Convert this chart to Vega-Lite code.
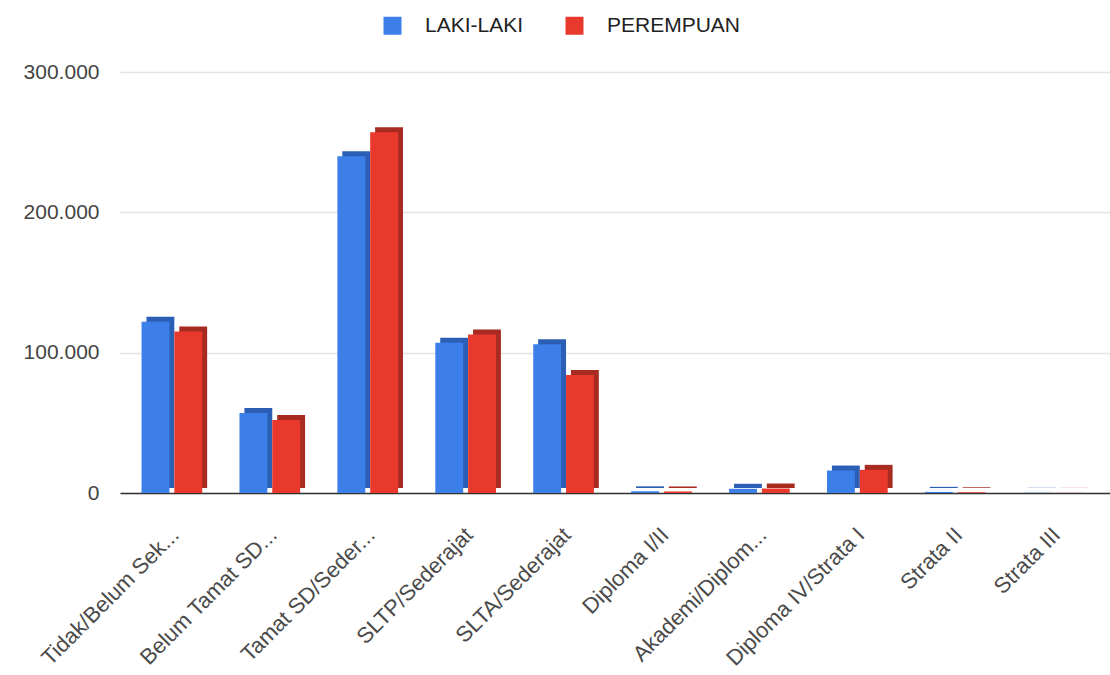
{
  "$schema": "https://vega.github.io/schema/vega-lite/v6.json",
  "width": 990,
  "height": 421,
  "autosize": {"type": "none"},
  "padding": {"left": 120, "top": 72, "right": 0, "bottom": 182},
  "background": "white",
  "config": {"font": "Liberation Sans", "view": {"stroke": null}},
  "data": {"values": [
    {"pendidikan": "Tidak/Belum Sek...", "jk": "LAKI-LAKI", "jumlah": 122000},
    {"pendidikan": "Tidak/Belum Sek...", "jk": "PEREMPUAN", "jumlah": 115000},
    {"pendidikan": "Belum Tamat SD...", "jk": "LAKI-LAKI", "jumlah": 57000},
    {"pendidikan": "Belum Tamat SD...", "jk": "PEREMPUAN", "jumlah": 52000},
    {"pendidikan": "Tamat SD/Seder...", "jk": "LAKI-LAKI", "jumlah": 240000},
    {"pendidikan": "Tamat SD/Seder...", "jk": "PEREMPUAN", "jumlah": 257000},
    {"pendidikan": "SLTP/Sederajat", "jk": "LAKI-LAKI", "jumlah": 107000},
    {"pendidikan": "SLTP/Sederajat", "jk": "PEREMPUAN", "jumlah": 113000},
    {"pendidikan": "SLTA/Sederajat", "jk": "LAKI-LAKI", "jumlah": 106000},
    {"pendidikan": "SLTA/Sederajat", "jk": "PEREMPUAN", "jumlah": 84000},
    {"pendidikan": "Diploma I/II", "jk": "LAKI-LAKI", "jumlah": 1200},
    {"pendidikan": "Diploma I/II", "jk": "PEREMPUAN", "jumlah": 1100},
    {"pendidikan": "Akademi/Diplom...", "jk": "LAKI-LAKI", "jumlah": 3000},
    {"pendidikan": "Akademi/Diplom...", "jk": "PEREMPUAN", "jumlah": 3200},
    {"pendidikan": "Diploma IV/Strata I", "jk": "LAKI-LAKI", "jumlah": 16000},
    {"pendidikan": "Diploma IV/Strata I", "jk": "PEREMPUAN", "jumlah": 16500},
    {"pendidikan": "Strata II", "jk": "LAKI-LAKI", "jumlah": 800},
    {"pendidikan": "Strata II", "jk": "PEREMPUAN", "jumlah": 500},
    {"pendidikan": "Strata III", "jk": "LAKI-LAKI", "jumlah": 150},
    {"pendidikan": "Strata III", "jk": "PEREMPUAN", "jumlah": 80}
  ]},
  "encoding": {
    "x": {
      "field": "pendidikan", "type": "nominal", "sort": null,
      "scale": {"paddingInner": 0.33, "paddingOuter": 0.22},
      "axis": {
        "title": null, "labelAngle": -45, "labelFontSize": 22, "labelColor": "#4a4a4a",
        "ticks": false, "domainColor": "#333333", "domainWidth": 1.5,
        "labelPadding": 31, "labelOffset": -6, "labelLimit": 400
      }
    },
    "y": {
      "field": "jumlah", "type": "quantitative",
      "scale": {"domain": [0, 300000], "nice": false},
      "axis": {
        "title": null, "domain": false, "ticks": false,
        "values": [0, 100000, 200000, 300000],
        "labelExpr": "replace(format(datum.value, ','), ',', '.')",
        "labelFontSize": 21, "labelColor": "#444444", "labelPadding": 21,
        "grid": true, "gridColor": "#e3e3e3", "gridWidth": 1.5
      }
    }
  },
  "layer": [
    {
      "mark": {"type": "bar", "yOffset": -5},
      "encoding": {
        "xOffset": {"field": "jk", "type": "nominal", "sort": ["LAKI-LAKI", "PEREMPUAN"], "scale": {"paddingInner": 0.15, "paddingOuter": 0.075, "align": 1}},
        "color": {
          "field": "jk", "type": "nominal",
          "scale": {"domain": ["LAKI-LAKI", "PEREMPUAN"], "range": ["#2b5fb5", "#a82b21"]},
          "legend": null
        }
      }
    },
    {
      "mark": {"type": "bar"},
      "encoding": {
        "xOffset": {"field": "jk", "type": "nominal", "sort": ["LAKI-LAKI", "PEREMPUAN"], "scale": {"paddingInner": 0.15, "paddingOuter": 0.075, "align": 0}},
        "color": {
          "field": "jk", "type": "nominal",
          "scale": {"domain": ["LAKI-LAKI", "PEREMPUAN"], "range": ["#3d7fe9", "#e9392d"]},
          "legend": {
            "title": null, "orient": "none", "direction": "horizontal",
            "legendX": 262, "legendY": -57,
            "symbolType": "square", "symbolSize": 324, "symbolStrokeWidth": 0,
            "labelFontSize": 21, "labelColor": "#222222", "labelOffset": 22,
            "columnPadding": 40, "padding": 0
          }
        }
      }
    }
  ],
  "resolve": {"scale": {"color": "independent", "xOffset": "independent"}}
}
